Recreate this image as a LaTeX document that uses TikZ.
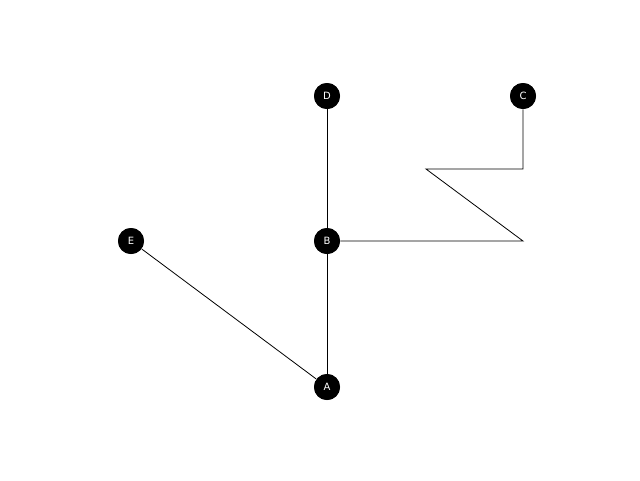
\documentclass[tikz,border=0pt]{standalone}
\usepackage{fontspec}
\setmainfont{DejaVu Sans}
\usetikzlibrary{positioning}
\tikzset{vert/.style={circle, fill=black, text=white, minimum size=26pt, inner sep=0pt, font=\fontsize{10}{12}\selectfont}}
\begin{document}
\begin{tikzpicture}[x=1pt, y=-1pt, thick]
    \useasboundingbox (0,0) rectangle (640,480);
    \node [vert] (D) at (327,96) {D};
    \node [vert] (C) at (523,96) {C};
    \node [vert] (E) at (131,241) {E};
    \node [vert] (B) at (327,241) {B};
    \node [vert] (A) at (327,387) {A};
    \coordinate (k1) at (523,241);
    \coordinate (k2) at (426,169);
    \coordinate (k3) at (523,169);
    \draw (A) -- (B);
    \draw (B) -- (D);
    \draw (A) -- (E);
    \draw (B) -- (k1) -- (k2) -- (k3) -- (C);
    % nodes on top
    \node [vert] at (D) {D};
    \node [vert] at (C) {C};
    \node [vert] at (E) {E};
    \node [vert] at (B) {B};
    \node [vert] at (A) {A};
\end{tikzpicture}
\end{document}
